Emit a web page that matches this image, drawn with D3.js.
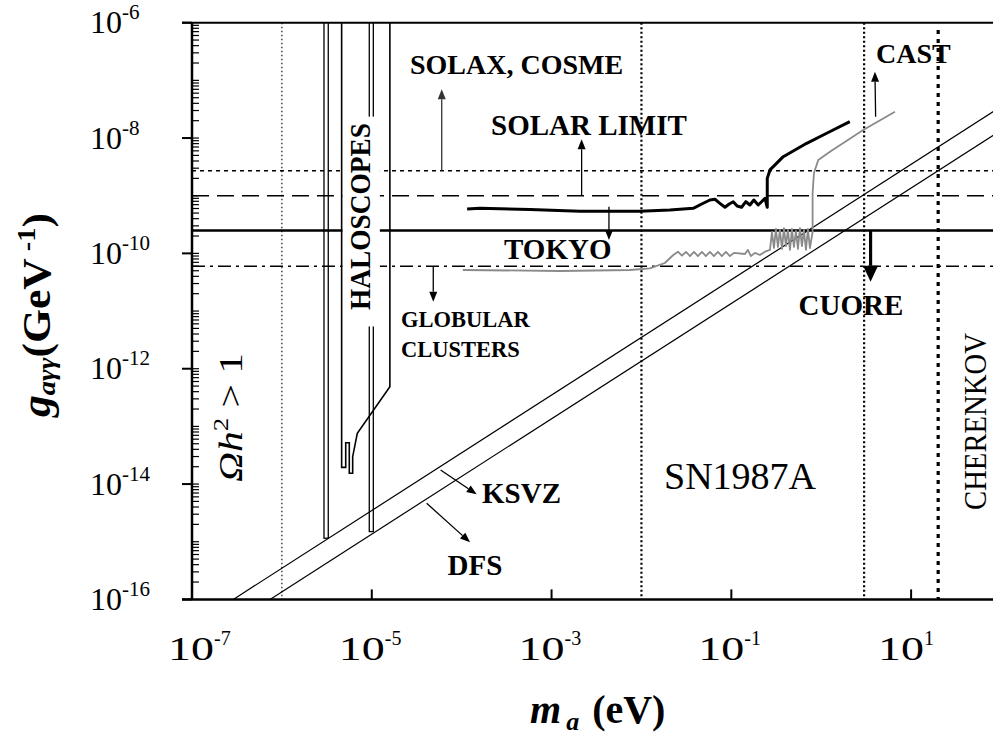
<!DOCTYPE html>
<html><head><meta charset="utf-8">
<script src="https://cdn.jsdelivr.net/npm/d3@7/dist/d3.min.js"></script>
<style>
body{margin:0;background:#fff}
svg{display:block}
text{font-family:"Liberation Serif","Times New Roman",Times,serif;fill:#000}
</style>
</head><body>
<svg id="c" width="993" height="740"></svg>
<script>
// ---------------- data ----------------
const xTicks = [1e-7, 1e-5, 1e-3, 1e-1, 1e1];
const xTickExp = ["-7", "-5", "-3", "-1", "1"];
const yTicks = [1e-6, 1e-8, 1e-10, 1e-12, 1e-14, 1e-16];
const yTickExp = ["-6", "-8", "-10", "-12", "-14", "-16"];

// horizontal limits: SOLAX/COSME, SOLAR LIMIT, TOKYO, GLOBULAR CLUSTERS
const limitG = [2.7e-9, 1e-9, 2.5e-10, 6e-11];
// vertical limits: Omega h^2 > 1, SN1987A, CUORE side, CHERENKOV
const vlineM = [1e-6, 0.01, 3, 20];

// axion model lines (g proportional to m)
const ksvzM = [2.88e-7, 100];
const ksvzG = [1e-16, 3.5e-8];
const dfsM = [7.38e-7, 100];
const dfsG = [1e-16, 1.36e-8];

// haloscope exclusion outline
const haloM = [4.62e-6, 4.62e-6, 5.13e-6, 5.13e-6, 5.62e-6, 5.62e-6, 6.13e-6, 6.13e-6, 6.9e-6, 1.59e-5, 1.59e-5];
const haloG = [1e-6, 1.95e-14, 1.95e-14, 5.2e-14, 5.2e-14, 1.54e-14, 1.54e-14, 2.98e-14, 7.59e-14, 4.88e-13, 1e-6];
// narrow haloscope bands
const bandLoM = [2.94e-6, 9.38e-6];
const bandHiM = [3.28e-6, 1.04e-5];
const bandBottomG = [1.15e-15, 1.5e-15];
// HALOSCOPES label box extent
const boxM = [4.62e-6, 1.23e-5];
const boxG = [2.35e-8, 5.4e-12];

// black (thick) helioscope curve
const blackM = [1.15e-4, 1.6e-4, 5.75e-4, 2.07e-3, 9.6e-3, 0.0207, 0.0377, 0.0468, 0.0578, 0.0657, 0.0746, 0.0849, 0.0948, 0.105, 0.116, 0.130, 0.145, 0.161, 0.178, 0.199, 0.217, 0.237, 0.251, 0.251, 0.269, 0.378, 0.689, 1.15, 2.08];
const blackG = [5.89e-10, 6.05e-10, 5.77e-10, 5.37e-10, 5.37e-10, 5.65e-10, 6.05e-10, 7.18e-10, 8.43e-10, 8.67e-10, 7.38e-10, 6.3e-10, 7.18e-10, 7.87e-10, 6.64e-10, 6.3e-10, 7.87e-10, 6.9e-10, 8.43e-10, 6.9e-10, 7.87e-10, 9.02e-10, 6.3e-10, 2.0e-9, 2.8e-9, 4.75e-9, 8.1e-9, 1.21e-8, 1.92e-8];

// grey (CAST) curve
const grayM = [1.03e-4, 1.24e-3, 7.45e-3, 0.0124, 0.0182, 0.0226, 0.0255, 0.0282, 0.0313, 0.0347, 0.0384, 0.0425, 0.0471, 0.0521, 0.0578, 0.0640, 0.0710, 0.0785, 0.0871, 0.0964, 0.107, 0.142, 0.153, 0.165, 0.183, 0.208, 0.237, 0.269,
  0.283, 0.298, 0.313, 0.330, 0.347, 0.366, 0.385, 0.405, 0.426, 0.449, 0.472, 0.497, 0.523, 0.551, 0.580, 0.610, 0.642, 0.676, 0.711, 0.748, 0.802,
  0.802, 0.830, 0.927, 1.25, 2.93, 6.61];
const grayG = [5.15e-11, 4.95e-11, 5.15e-11, 5.51e-11, 6.81e-11, 9.37e-11, 1.07e-10, 9.12e-11, 1.06e-10, 9.0e-11, 1.06e-10, 9.0e-11, 1.06e-10, 9.0e-11, 1.06e-10, 9.0e-11, 1.06e-10, 9.0e-11, 1.06e-10, 9.0e-11, 1.02e-10, 9.75e-11, 1.15e-10, 9.0e-11, 1.02e-10, 9.37e-11, 1.07e-10, 1.15e-10,
  2.35e-10, 1.24e-10, 2.65e-10, 1.29e-10, 2.55e-10, 1.19e-10, 2.75e-10, 1.34e-10, 2.55e-10, 1.15e-10, 2.65e-10, 1.29e-10, 2.45e-10, 1.19e-10, 2.75e-10, 1.34e-10, 2.55e-10, 1.15e-10, 2.65e-10, 1.24e-10, 2.35e-10,
  1.11e-9, 2.48e-9, 4.16e-9, 5.8e-9, 1.38e-8, 2.86e-8];

// annotation arrows: SOLAX, SOLAR, TOKYO, GLOBULAR, CAST, CUORE, KSVZ, DFS
const arrowFromM = [6.0e-5, 2.16e-3, 4.35e-3, 4.83e-5, 4.03, 3.54, 5.83e-5, 4.08e-5];
const arrowFromG = [2.7e-9, 1e-9, 6.44e-10, 6e-11, 2.35e-8, 2.5e-10, 1.75e-14, 4.64e-15];
const arrowToM = [6.0e-5, 2.16e-3, 4.35e-3, 4.83e-5, 3.96, 3.54, 1.47e-4, 1.24e-4];
const arrowToG = [7.0e-8, 9.5e-9, 1.71e-10, 1.45e-11, 1.41e-7, 3.23e-11, 6.64e-15, 9.77e-16];

// ---------------- drawing ----------------
const svg = d3.select("#c");
const X0 = 192, X1 = 993, Y0 = 22.7, Y1 = 599.4;
const x = d3.scaleLog().domain([1e-7, 1e2]).range([192, 1001]);
const y = d3.scaleLog().domain([1e-16, 1e-6]).range([Y1, Y0]);

svg.append("defs").append("clipPath").attr("id", "pc")
  .append("rect").attr("x", X0).attr("y", Y0).attr("width", X1 - X0).attr("height", Y1 - Y0);
const plot = svg.append("g").attr("clip-path", "url(#pc)");

// horizontal limit lines
const hStyles = [{d: "4,4", w: 1.5}, {d: "17,8", w: 1.6}, {d: null, w: 2.6}, {d: "13,5,3,5", w: 1.5}];
plot.selectAll("line.h").data(limitG).join("line")
  .attr("x1", X0).attr("x2", X1)
  .attr("y1", d => y(d)).attr("y2", d => y(d))
  .attr("stroke", "#000")
  .attr("stroke-width", (d, i) => hStyles[i].w)
  .attr("stroke-dasharray", (d, i) => hStyles[i].d);

// vertical limit lines
const vStyles = [{d: "1.5,2.5", w: 1.1}, {d: "2,2.5", w: 2.2}, {d: "2,2.5", w: 2.2}, {d: "4,5", w: 3.2}];
plot.selectAll("line.v").data(vlineM).join("line")
  .attr("x1", d => x(d)).attr("x2", d => x(d))
  .attr("y1", (d, i) => i === 3 ? 30 : Y0).attr("y2", Y1)
  .attr("stroke", "#000")
  .attr("stroke-width", (d, i) => vStyles[i].w)
  .attr("stroke-dasharray", (d, i) => vStyles[i].d);

// KSVZ & DFS lines
const line = d3.line().x(d => x(d[0])).y(d => y(d[1]));
[[ksvzM, ksvzG], [dfsM, dfsG]].forEach(([ms, gs]) => {
  plot.append("path").attr("d", line(ms.map((m, i) => [m, gs[i]])))
    .attr("fill", "none").attr("stroke", "#000").attr("stroke-width", 1.2);
});

// haloscope narrow bands
bandLoM.forEach((m, i) => {
  plot.append("rect")
    .attr("x", x(m)).attr("y", y(1e-6) - 2)
    .attr("width", x(bandHiM[i]) - x(m))
    .attr("height", y(bandBottomG[i]) - y(1e-6) + 2)
    .attr("fill", "none").attr("stroke", "#000").attr("stroke-width", 1.3);
});

// white label box
plot.append("rect")
  .attr("x", x(boxM[0]) + 0.8).attr("y", y(boxG[0]))
  .attr("width", x(boxM[1]) - x(boxM[0]) - 0.8)
  .attr("height", y(boxG[1]) - y(boxG[0]))
  .attr("fill", "#fff");

// haloscope outline
plot.append("path").attr("d", line(haloM.map((m, i) => [m, haloG[i]])))
  .attr("fill", "none").attr("stroke", "#000").attr("stroke-width", 1.6);

// curves
plot.append("path").attr("d", line(grayM.map((m, i) => [m, grayG[i]])))
  .attr("fill", "none").attr("stroke", "#8a8a8a").attr("stroke-width", 1.8).attr("stroke-linejoin", "round");
plot.append("path").attr("d", line(blackM.map((m, i) => [m, blackG[i]])))
  .attr("fill", "none").attr("stroke", "#000").attr("stroke-width", 3).attr("stroke-linejoin", "round");

// arrows
function arrow(x1, y1, x2, y2, w, hl, hw, col) {
  const dx = x2 - x1, dy = y2 - y1, L = Math.hypot(dx, dy);
  const ux = dx / L, uy = dy / L;
  const bx = x2 - ux * hl, by = y2 - uy * hl;
  svg.append("line").attr("x1", x1).attr("y1", y1).attr("x2", bx).attr("y2", by)
    .attr("stroke", col).attr("stroke-width", w);
  svg.append("path").attr("d", `M${x2},${y2}L${bx - uy * hw / 2},${by + ux * hw / 2}L${bx + uy * hw / 2},${by - ux * hw / 2}Z`)
    .attr("fill", col);
}
arrowFromM.forEach((m, i) => {
  const big = i === 5;
  const col = i === 0 ? "#333" : "#000";
  arrow(x(m), y(arrowFromG[i]), x(arrowToM[i]), y(arrowToG[i]),
    big ? 3.2 : 1.3, big ? 16 : 10, big ? 15 : 8, col);
});

// ---------------- axes ----------------
const ax = svg.append("g").attr("stroke", "#000");
ax.append("line").attr("x1", X0).attr("x2", X0).attr("y1", Y0).attr("y2", Y1).attr("stroke-width", 2.5);
ax.append("line").attr("x1", 182).attr("x2", X1).attr("y1", Y0).attr("y2", Y0).attr("stroke-width", 2);
ax.append("line").attr("x1", 182).attr("x2", X1).attr("y1", Y1).attr("y2", Y1).attr("stroke-width", 2.5);
yTicks.forEach(t => {
  ax.append("line").attr("x1", 182).attr("x2", X0).attr("y1", y(t)).attr("y2", y(t)).attr("stroke-width", 2);
});
for (let e = -16; e < -6; e++) {
  for (let k = 1; k <= 9; k++) {
    const v = k * Math.pow(10, e);
    if (v <= 1e-16 || v >= 1e-6) continue;
    ax.append("line").attr("x1", X0).attr("x2", X0 + 7).attr("y1", y(v)).attr("y2", y(v)).attr("stroke-width", 1.2);
  }
}
xTicks.slice(1).forEach(t => {
  ax.append("line").attr("x1", x(t)).attr("x2", x(t)).attr("y1", Y1).attr("y2", Y1 - 10).attr("stroke-width", 2);
});

// y tick labels
yTicks.forEach((t, i) => {
  const tx = svg.append("text").attr("x", 90).attr("y", y(t) + 10.6).attr("font-size", 32);
  tx.append("tspan").text("10");
  tx.append("tspan").attr("font-size", 21).attr("dy", -14).text(yTickExp[i]);
});
// x tick labels
xTicks.forEach((t, i) => {
  const inkL = x(t) + (i === 0 ? -21 : -30);
  svg.append("text").attr("x", inkL - 3).attr("y", 660).attr("font-size", 33)
    .attr("textLength", 46).attr("lengthAdjust", "spacingAndGlyphs").text("10");
  svg.append("text").attr("x", inkL + 43).attr("y", 645).attr("font-size", 20).text(xTickExp[i]);
});

// axis titles
const xt = svg.append("text").attr("x", 530).attr("y", 723)
  .attr("font-size", 40).attr("font-weight", "bold");
xt.append("tspan").attr("font-style", "italic").text("m");
xt.append("tspan").attr("font-style", "italic").attr("font-size", 26).attr("dx", 5).attr("dy", 7).text("a");
xt.append("tspan").attr("dy", -7).attr("dx", 3).text(" (eV)");

const yt = svg.append("text").attr("transform", "translate(50,417) rotate(-90)")
  .attr("font-size", 40).attr("font-weight", "bold")
  .attr("textLength", 204).attr("lengthAdjust", "spacingAndGlyphs");
yt.append("tspan").attr("font-style", "italic").text("g");
yt.append("tspan").attr("font-style", "italic").attr("font-size", 26).attr("dy", 5).text("aγγ");
yt.append("tspan").attr("dy", -5).text("(GeV");
yt.append("tspan").attr("font-size", 26).attr("dy", -15).text(" -1");
yt.append("tspan").attr("dy", 15).text(")");

// ---------------- annotations ----------------
function label(t, px, py, size, bold) {
  return svg.append("text").attr("x", px).attr("y", py).attr("font-size", size)
    .attr("font-weight", bold ? "bold" : "normal").text(t);
}
label("SOLAX, COSME", 410, 74, 28, true);
label("SOLAR LIMIT", 491, 135, 29, true);
label("TOKYO", 504, 259.3, 29, true);
label("GLOBULAR", 401, 327.3, 22.5, true);
label("CLUSTERS", 401, 356.7, 22.5, true);
label("KSVZ", 482, 503.3, 29, true);
label("DFS", 447.5, 575, 29, true);
label("SN1987A", 664, 489.3, 38, false);
label("CUORE", 798.5, 315, 29, true);
label("CAST", 876, 63.3, 28, true);

svg.append("text").attr("transform", "translate(370,310) rotate(-90)")
  .attr("font-size", 29).attr("font-weight", "bold")
  .attr("textLength", 187).attr("lengthAdjust", "spacingAndGlyphs").text("HALOSCOPES");
svg.append("text").attr("transform", "translate(986,510) rotate(-90)")
  .attr("font-size", 31)
  .attr("textLength", 177).attr("lengthAdjust", "spacingAndGlyphs").text("CHERENKOV");
const om = svg.append("text").attr("transform", "translate(241.7,482) rotate(-90)")
  .attr("font-size", 34).attr("textLength", 129).attr("lengthAdjust", "spacingAndGlyphs");
om.append("tspan").attr("font-style", "italic").text("Ωh");
om.append("tspan").attr("font-size", 22).attr("dy", -14).text("2");
om.append("tspan").attr("dy", 14).text(" > 1");
</script>
</body></html>
